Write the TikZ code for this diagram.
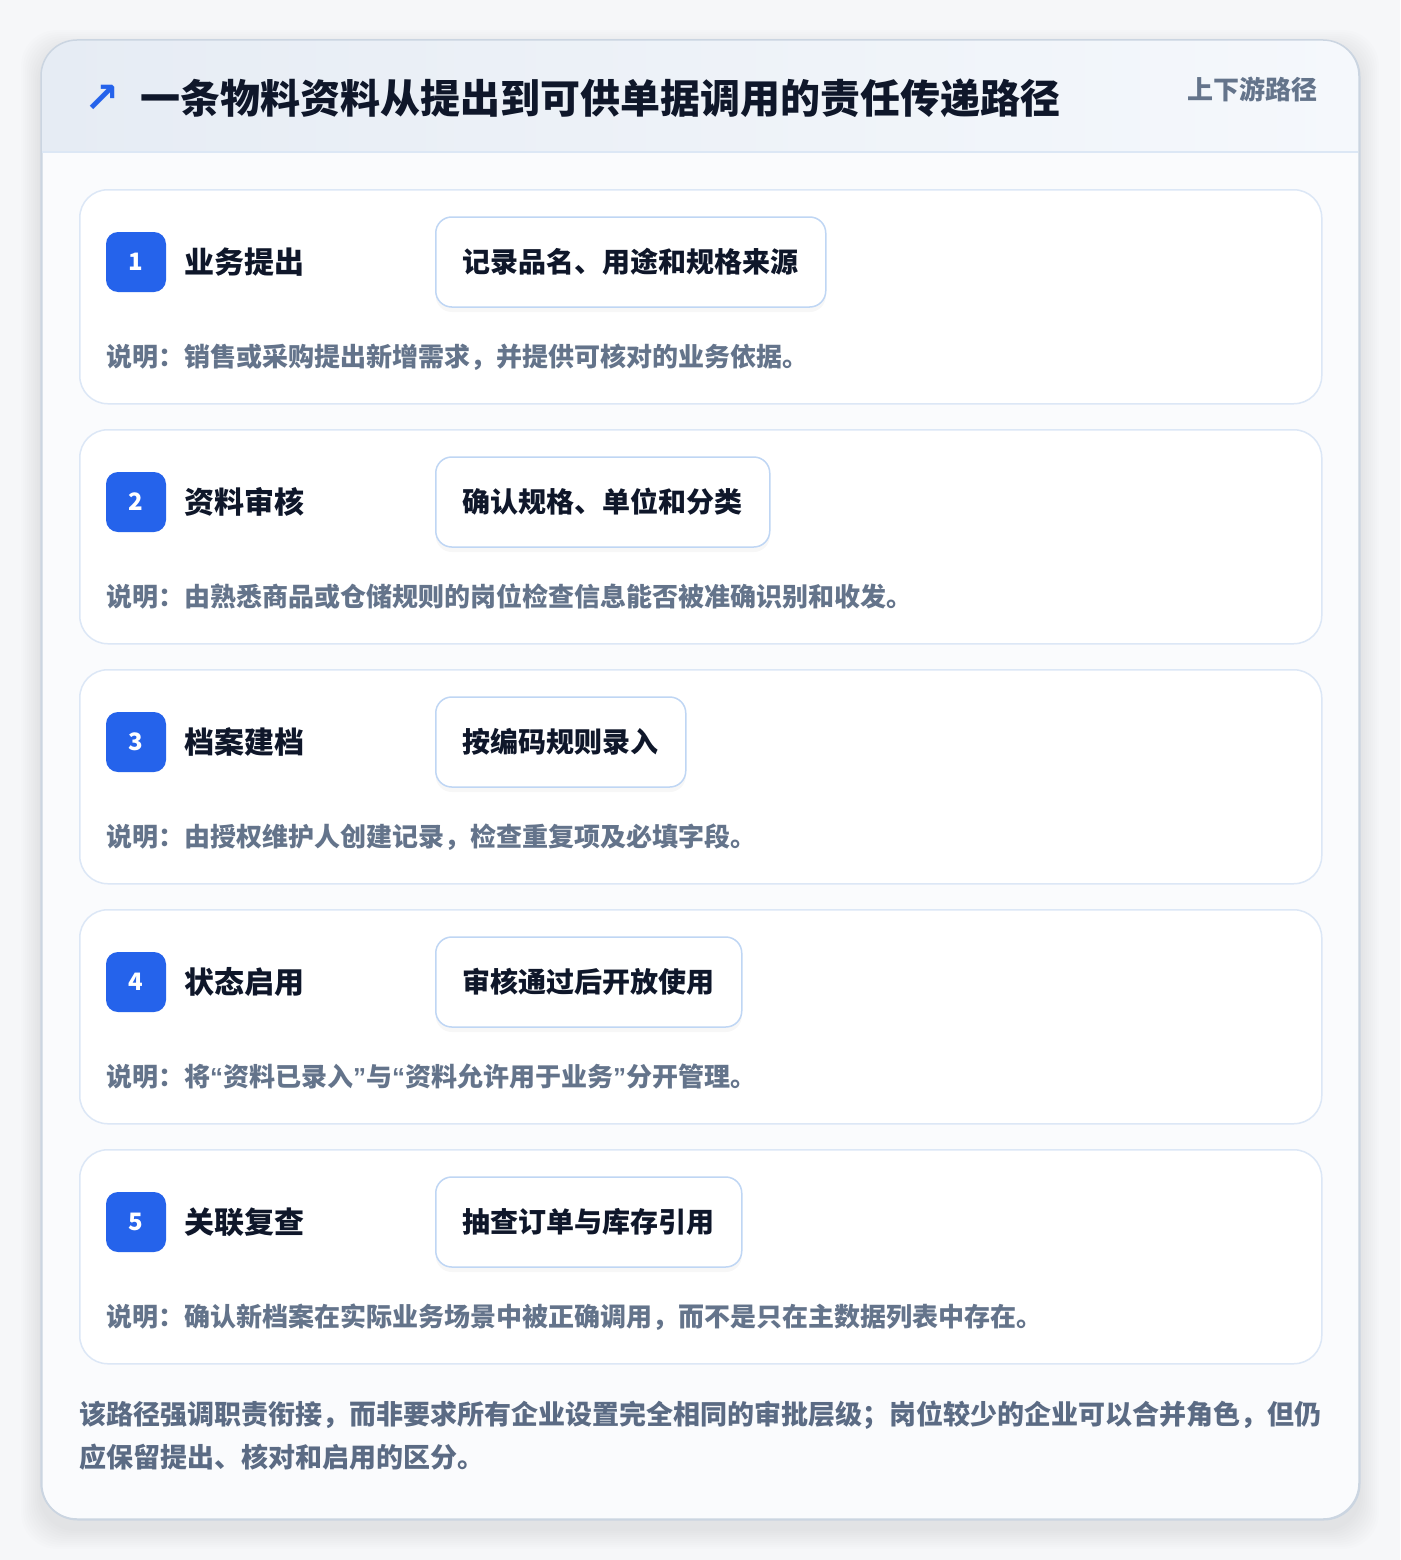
\documentclass[tikz,border=0pt]{standalone}
\usepackage{fontspec}
\setmainfont{Noto Sans CJK SC}
\newfontfamily\symfont{DejaVu Sans}
\newfontfamily\latinfont{Liberation Sans}
\newcommand{\openq}{{\latinfont “}}
\newcommand{\closeq}{{\latinfont ”}}
\usetikzlibrary{positioning, shadows}

\definecolor{pagebg}{HTML}{F6F7F9}
\definecolor{paneledge}{HTML}{CBD5E1}
\definecolor{headleft}{HTML}{E6ECF4}
\definecolor{headright}{HTML}{F5F8FC}
\definecolor{headline}{HTML}{DCE7F5}
\definecolor{bodyfill}{HTML}{FAFBFD}
\definecolor{stepedge}{HTML}{DCE7F6}
\definecolor{actedge}{HTML}{BFD6F4}
\definecolor{badgeblue}{HTML}{2563EB}
\definecolor{titleink}{HTML}{0F172A}
\definecolor{noteink}{HTML}{64748B}
\definecolor{footink}{HTML}{5B6B84}

\begin{document}
\begin{tikzpicture}[x=1pt, y=-1pt]
	\tikzstyle{panel} = [rectangle, draw=paneledge, line width=1.5pt, fill=bodyfill, rounded corners=36pt, minimum width=1318pt, minimum height=1479pt, anchor=north west, inner sep=0pt]
	\tikzstyle{stepcard} = [rectangle, draw=stepedge, line width=1.5pt, fill=white, rounded corners=28pt, minimum width=1242pt, minimum height=214pt, anchor=north west, inner sep=0pt]
	\tikzstyle{badge} = [rectangle, fill=badgeblue, rounded corners=12pt, minimum size=60pt, inner sep=0pt, text=white, font=\fontsize{24pt}{28pt}\selectfont\bfseries]
	\tikzstyle{steptitle} = [anchor=west, inner sep=0pt, text=titleink, font=\fontsize{30pt}{36pt}\selectfont\bfseries]
	\tikzstyle{action} = [rectangle, draw=actedge, line width=1.5pt, fill=white, rounded corners=16pt, minimum height=90pt, inner xsep=27pt, inner ysep=0pt, anchor=west, text=titleink, font=\fontsize{28pt}{34pt}\selectfont\bfseries, drop shadow={shadow xshift=0pt, shadow yshift=-5pt, opacity=0.03, fill=black}]
	\tikzstyle{note} = [anchor=west, inner sep=0pt, text=noteink, font=\fontsize{26pt}{32pt}\selectfont\bfseries]
	\tikzstyle{foot} = [anchor=west, inner sep=0pt, text=footink, font=\fontsize{27pt}{33pt}\selectfont\bfseries]

	\useasboundingbox (0,0) rectangle (1400,1560);
	\fill[pagebg] (0,0) rectangle (1400,1560);

	% soft shadow round the panel
	\foreach \s in {2,4,...,20}
		\fill[black, opacity=0.006, rounded corners=36pt] (41-\s,40-\s+10) rectangle (1359+\s,1519+\s+10);

	\node [panel] (panel) at (41,40) {};

	% header band
	\begin{scope}
		\clip [rounded corners=36pt] (41,40) rectangle (1359,1519);
		\shade [left color=headleft, right color=headright] (41,40) rectangle (1359,152);
	\end{scope}
	\draw [headline, line width=1.5pt] (41.75,152) -- (1358.25,152);
	\draw [paneledge, line width=1.5pt, rounded corners=36pt] (41,40) rectangle (1359,1519);

	\node [text=badgeblue, inner sep=0pt, font=\symfont\bfseries\fontsize{42pt}{48pt}\selectfont] (icon) at (102,99) {↗};
	\node [anchor=west, inner sep=0pt, text=titleink, font=\fontsize{40pt}{48pt}\selectfont\bfseries] (title) at (140,98) {一条物料资料从提出到可供单据调用的责任传递路径};
	\node [anchor=east, inner sep=0pt, text=noteink, font=\fontsize{26pt}{32pt}\selectfont\bfseries] (tag) at (1318,89) {上下游路径};

	% step 1
	\node [stepcard] (card1) at (79,189) {};
	\node [badge] (badge1) at (136,262) {1};
	\node [steptitle, right=18pt of badge1] (name1) {业务提出};
	\node [action] (act1) at (435,262) {记录品名、用途和规格来源};
	\node [note] (note1) at (106,357) {说明：销售或采购提出新增需求，并提供可核对的业务依据。};

	% step 2
	\node [stepcard] (card2) at (79,429) {};
	\node [badge] (badge2) at (136,502) {2};
	\node [steptitle, right=18pt of badge2] (name2) {资料审核};
	\node [action] (act2) at (435,502) {确认规格、单位和分类};
	\node [note] (note2) at (106,597) {说明：由熟悉商品或仓储规则的岗位检查信息能否被准确识别和收发。};

	% step 3
	\node [stepcard] (card3) at (79,669) {};
	\node [badge] (badge3) at (136,742) {3};
	\node [steptitle, right=18pt of badge3] (name3) {档案建档};
	\node [action] (act3) at (435,742) {按编码规则录入};
	\node [note] (note3) at (106,837) {说明：由授权维护人创建记录，检查重复项及必填字段。};

	% step 4
	\node [stepcard] (card4) at (79,909) {};
	\node [badge] (badge4) at (136,982) {4};
	\node [steptitle, right=18pt of badge4] (name4) {状态启用};
	\node [action] (act4) at (435,982) {审核通过后开放使用};
	\node [note] (note4) at (106,1077) {说明：将\openq 资料已录入\closeq 与\openq 资料允许用于业务\closeq 分开管理。};

	% step 5
	\node [stepcard] (card5) at (79,1149) {};
	\node [badge] (badge5) at (136,1222) {5};
	\node [steptitle, right=18pt of badge5] (name5) {关联复查};
	\node [action] (act5) at (435,1222) {抽查订单与库存引用};
	\node [note] (note5) at (106,1317) {说明：确认新档案在实际业务场景中被正确调用，而不是只在主数据列表中存在。};

	% closing remark
	\node [foot] (foot1) at (79,1415) {该路径强调职责衔接，而非要求所有企业设置完全相同的审批层级；岗位较少的企业可以合并角色，但仍};
	\node [foot] (foot2) at (79,1457) {应保留提出、核对和启用的区分。};
\end{tikzpicture}
\end{document}
